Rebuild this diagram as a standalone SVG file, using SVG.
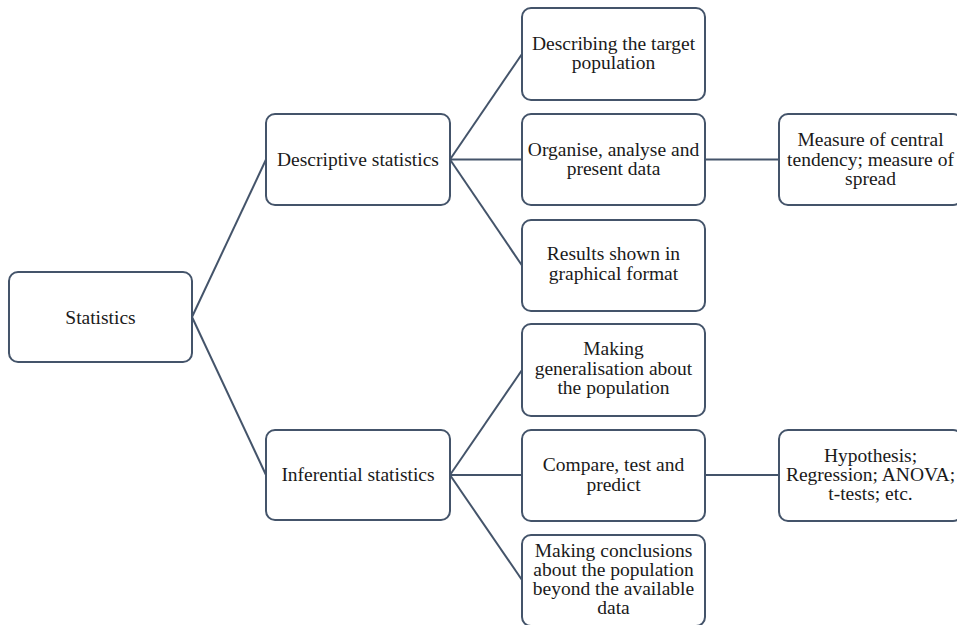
<svg xmlns="http://www.w3.org/2000/svg" width="957" height="625" viewBox="0 0 957 625">
  <style>
    .box { fill: #ffffff; stroke: #44546a; stroke-width: 2; }
    .lbl { font-family: 'Liberation Serif', 'Times New Roman', Tinos, 'DejaVu Serif', serif; font-size: 19.5px; fill: #1a1a1a; text-anchor: middle; }
    .link { stroke: #44546a; stroke-width: 2; fill: none; }
  </style>
  <rect width="957" height="625" fill="#ffffff"/>

  <!-- connectors -->
  <g id="connectors">
    <line class="link" x1="192" y1="317" x2="266" y2="159.5"/>
    <line class="link" x1="192" y1="317" x2="266" y2="475"/>
    <line class="link" x1="450" y1="159.5" x2="522" y2="54"/>
    <line class="link" x1="450" y1="159.5" x2="522" y2="159.5"/>
    <line class="link" x1="450" y1="159.5" x2="522" y2="265.5"/>
    <line class="link" x1="705" y1="159.5" x2="779" y2="159.5"/>
    <line class="link" x1="450" y1="475" x2="522" y2="370"/>
    <line class="link" x1="450" y1="475" x2="522" y2="475"/>
    <line class="link" x1="450" y1="475" x2="522" y2="580"/>
    <line class="link" x1="705" y1="475" x2="779" y2="475"/>
  </g>

  <g id="statistics">
    <rect class="box" x="9" y="272" width="183" height="90" rx="9"/>
    <text class="lbl" x="100.5" y="324">Statistics</text>
  </g>

  <g id="descriptive">
    <rect class="box" x="266" y="114" width="184" height="91" rx="9"/>
    <text class="lbl" x="358" y="166">Descriptive statistics</text>
  </g>

  <g id="inferential">
    <rect class="box" x="266" y="430" width="184" height="90" rx="9"/>
    <text class="lbl" x="358" y="481">Inferential statistics</text>
  </g>

  <g id="describing">
    <rect class="box" x="522" y="8" width="183" height="92" rx="9"/>
    <text class="lbl" x="613.5" y="50">Describing the target</text>
    <text class="lbl" x="613.5" y="69">population</text>
  </g>

  <g id="organise">
    <rect class="box" x="522" y="114" width="183" height="91" rx="9"/>
    <text class="lbl" x="613.5" y="156">Organise, analyse and</text>
    <text class="lbl" x="613.5" y="175">present data</text>
  </g>

  <g id="results">
    <rect class="box" x="522" y="220" width="183" height="91" rx="9"/>
    <text class="lbl" x="613.5" y="260">Results shown in</text>
    <text class="lbl" x="613.5" y="280">graphical format</text>
  </g>

  <g id="central">
    <rect class="box" x="779" y="114" width="183" height="91" rx="9"/>
    <text class="lbl" x="870.5" y="146">Measure of central</text>
    <text class="lbl" x="870.5" y="166">tendency; measure of</text>
    <text class="lbl" x="870.5" y="185">spread</text>
  </g>

  <g id="generalisation">
    <rect class="box" x="522" y="324" width="183" height="92" rx="9"/>
    <text class="lbl" x="613.5" y="355">Making</text>
    <text class="lbl" x="613.5" y="375">generalisation about</text>
    <text class="lbl" x="613.5" y="394">the population</text>
  </g>

  <g id="compare">
    <rect class="box" x="522" y="430" width="183" height="91" rx="9"/>
    <text class="lbl" x="613.5" y="471">Compare, test and</text>
    <text class="lbl" x="613.5" y="491">predict</text>
  </g>

  <g id="hypothesis">
    <rect class="box" x="779" y="430" width="183" height="91" rx="9"/>
    <text class="lbl" x="870.5" y="462">Hypothesis;</text>
    <text class="lbl" x="870.5" y="481">Regression; ANOVA;</text>
    <text class="lbl" x="870.5" y="500">t-tests; etc.</text>
  </g>

  <g id="conclusions">
    <rect class="box" x="522" y="535" width="183" height="91" rx="9"/>
    <text class="lbl" x="613.5" y="557">Making conclusions</text>
    <text class="lbl" x="613.5" y="576">about the population</text>
    <text class="lbl" x="613.5" y="595">beyond the available</text>
    <text class="lbl" x="613.5" y="614">data</text>
  </g>
</svg>
